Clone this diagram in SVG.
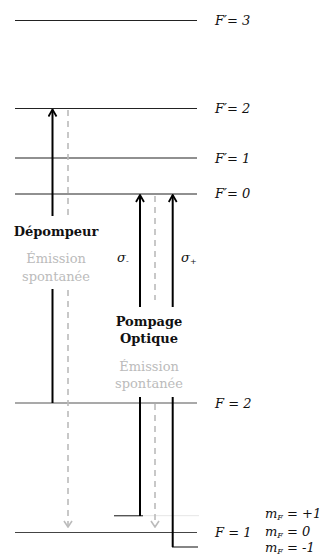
<svg xmlns="http://www.w3.org/2000/svg" width="323" height="556" viewBox="0 0 323 556">
<defs>
<style>
.lvl{stroke:#222;stroke-width:1.1;fill:none}
.arr{stroke:#000;stroke-width:2;fill:none}
.sp{stroke:#bbb;stroke-width:1.6;fill:none;stroke-dasharray:6 5}
.lab{font-family:"DejaVu Serif","Liberation Serif",serif;font-style:italic;font-size:13px;fill:#111}
.sub{font-size:8px}
.b{font-family:"DejaVu Serif","Liberation Serif",serif;font-weight:bold;font-size:13px;fill:#111;text-anchor:middle}
.g{font-family:"DejaVu Serif","Liberation Serif",serif;font-size:13px;fill:#bbb;text-anchor:middle}
</style>
<marker id="ah" viewBox="0 0 10 10" refX="9" refY="5" markerWidth="10" markerHeight="10" markerUnits="userSpaceOnUse" orient="auto">
<path d="M2,1 L9,5 L2,9" fill="none" stroke="#000" stroke-width="1.8"/>
</marker>
<marker id="ahg" viewBox="0 0 10 10" refX="9" refY="5" markerWidth="10" markerHeight="10" markerUnits="userSpaceOnUse" orient="auto">
<path d="M3,1 L9,5 L3,9" fill="none" stroke="#bbb" stroke-width="1.6"/>
</marker>
</defs>
<g id="levels">
<line class="lvl" x1="15" y1="20.5" x2="197" y2="20.5"/>
<line class="lvl" x1="15" y1="108.5" x2="197" y2="108.5"/>
<line class="lvl" x1="15" y1="158" x2="197" y2="158"/>
<line class="lvl" x1="15" y1="194" x2="197" y2="194"/>
<line class="lvl" x1="15" y1="403" x2="197" y2="403" style="stroke:#555"/>
<line class="lvl" x1="15" y1="532.5" x2="197" y2="532.5" style="stroke:#444"/>
<line class="lvl" x1="114" y1="515.7" x2="143" y2="515.7" style="stroke:#555;stroke-width:1.4"/>
<line x1="143" y1="515.7" x2="199" y2="515.7" style="stroke:#e6e6e6;stroke-width:1"/>
<line class="lvl" x1="172" y1="547" x2="198" y2="547"/>
</g>
<g id="level-labels" class="lab">
<text x="215" y="24.5">F′= 3</text>
<text x="215" y="113">F′= 2</text>
<text x="215" y="163">F′= 1</text>
<text x="215" y="198">F′= 0</text>
<text x="215" y="408">F = 2</text>
<text x="215" y="537">F = 1</text>
<text x="265" y="518">m<tspan class="sub" dy="2">F</tspan><tspan dy="-2"> = +1</tspan></text>
<text x="265" y="536">m<tspan class="sub" dy="2">F</tspan><tspan dy="-2"> = 0</tspan></text>
<text x="265" y="552">m<tspan class="sub" dy="2">F</tspan><tspan dy="-2"> = -1</tspan></text>
</g>
<g id="connectors">
<line class="arr" x1="52.5" y1="216" x2="52.5" y2="109.5" marker-end="url(#ah)"/>
<line class="arr" x1="52.5" y1="289" x2="52.5" y2="403"/>
<line class="sp" x1="68" y1="110" x2="68" y2="216"/>
<line class="sp" x1="68" y1="290" x2="68" y2="527" marker-end="url(#ahg)"/>
<line class="arr" x1="140" y1="307" x2="140" y2="195" marker-end="url(#ah)"/>
<line class="arr" x1="140" y1="397" x2="140" y2="516"/>
<line class="arr" x1="172.7" y1="307" x2="172.7" y2="195" marker-end="url(#ah)"/>
<line class="arr" x1="172.7" y1="397" x2="172.7" y2="547"/>
<line class="sp" x1="155" y1="196" x2="155" y2="300"/>
<line class="sp" x1="155" y1="404" x2="155" y2="527" marker-end="url(#ahg)"/>
</g>
<g id="label-depompeur">
<text class="b" x="56" y="235.5">Dépompeur</text>
<text class="g" x="56" y="263">Émission</text>
<text class="g" x="56" y="281">spontanée</text>
</g>
<g id="label-pompage">
<text class="b" x="149" y="326">Pompage</text>
<text class="b" x="149" y="343">Optique</text>
<text class="g" x="149" y="371">Émission</text>
<text class="g" x="149" y="388">spontanée</text>
</g>
<g id="sigma-labels" class="lab">
<text x="117" y="262">σ<tspan class="sub" dy="2">-</tspan></text>
<text x="181" y="262">σ<tspan class="sub" dy="2">+</tspan></text>
</g>
</svg>
